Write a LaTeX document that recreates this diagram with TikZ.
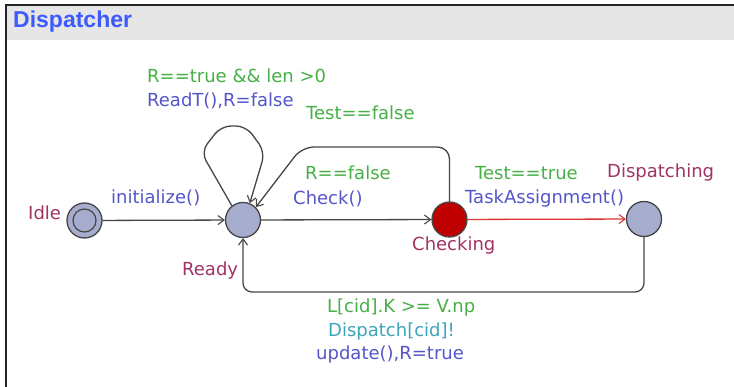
\documentclass[tikz,border=0pt]{standalone}
\usepackage{fontspec}
\setmainfont{DejaVu Sans}
\newfontfamily\titlefont{Liberation Sans}
\usetikzlibrary{arrows.meta}
\definecolor{locname}{RGB}{160,50,100}
\definecolor{guardc}{RGB}{70,175,70}
\definecolor{updc}{RGB}{85,85,200}
\definecolor{syncc}{RGB}{60,165,185}
\definecolor{titlec}{RGB}{60,90,255}
\definecolor{locfill}{RGB}{165,172,205}
\definecolor{urgfill}{RGB}{190,0,0}
\definecolor{edgec}{RGB}{70,70,70}
\definecolor{redge}{RGB}{220,50,50}
\definecolor{headc}{RGB}{230,230,230}
\tikzset{
  loc/.style={circle, draw=edgec, line width=1.3pt, fill=locfill, minimum size=35pt, inner sep=0pt},
  urgent/.style={loc, fill=urgfill},
  lbl/.style={anchor=west, inner sep=0pt, font=\fontsize{18}{21}\selectfont},
  lname/.style={lbl, text=locname},
  guard/.style={lbl, text=guardc},
  upd/.style={lbl, text=updc},
  sync/.style={lbl, text=syncc},
  edge/.style={draw=edgec, line width=1.3pt, -{Straight Barb[length=6pt,width=9pt,line width=1.1pt]}},
  redgeline/.style={edge, draw=redge}
}
\begin{document}
\begin{tikzpicture}[x=1pt,y=-1pt]
\useasboundingbox (0,0) rectangle (734,387);
% frame and header band
\fill[headc] (6,6) rectangle (734,40);
\draw[black!85, line width=2pt] (6,387) -- (6,5) -- (734,5);
\node[anchor=west, inner sep=0pt, text=titlec, font=\titlefont\bfseries\fontsize{23}{26}\selectfont] (title) at (13,22) {Dispatcher};

% locations
\node[loc] (idle) at (84.5,220.5) {};
\draw[edgec, line width=1.2pt] (idle) circle (11.5pt);
\node[loc] (ready) at (243,220) {};
\node[urgent] (checking) at (449.5,219.5) {};
\node[loc] (disp) at (644,219) {};

% location names
\node[lname] (nidle) at (28,213) {Idle};
\node[lname] (nready) at (182,271) {Ready};
\node[lname] (nchecking) at (412,246) {Checking};
\node[lname] (ndisp) at (607,173) {Dispatching};

% edges
\draw[edge] (idle) -- (ready);
\draw[edge, rounded corners=10pt] (ready.128) -- (201,152) -- (221,126) -- (246,126) -- (265,152) -- (ready.68);
\draw[edge] (ready) -- (checking);
\draw[edge, rounded corners=12pt] (checking.north) -- (449.5,147) -- (302,147) -- (ready.45);
\draw[redgeline] (checking) -- (disp);
\draw[edge, rounded corners=9pt] (disp.south) -- (644,292) -- (243,292) -- (ready.south);

% edge labels
\node[upd] (linit) at (111,198) {initialize()};
\node[guard] (lg1) at (147,76) {R==true \&\& len >0};
\node[upd] (lu1) at (147,101) {ReadT(),R=false};
\node[guard] (lg2) at (306,113) {Test==false};
\node[guard] (lg3) at (305,173) {R==false};
\node[upd] (lu3) at (293,199) {Check()};
\node[guard] (lg4) at (475,173) {Test==true};
\node[upd] (lu4) at (465,199) {TaskAssignment()};
\node[guard] (lg5) at (327,308) {L[cid].K >= V.np};
\node[sync] (ls5) at (328,332) {Dispatch[cid]!};
\node[upd] (lu5) at (316,355) {update(),R=true};
\end{tikzpicture}
\end{document}
